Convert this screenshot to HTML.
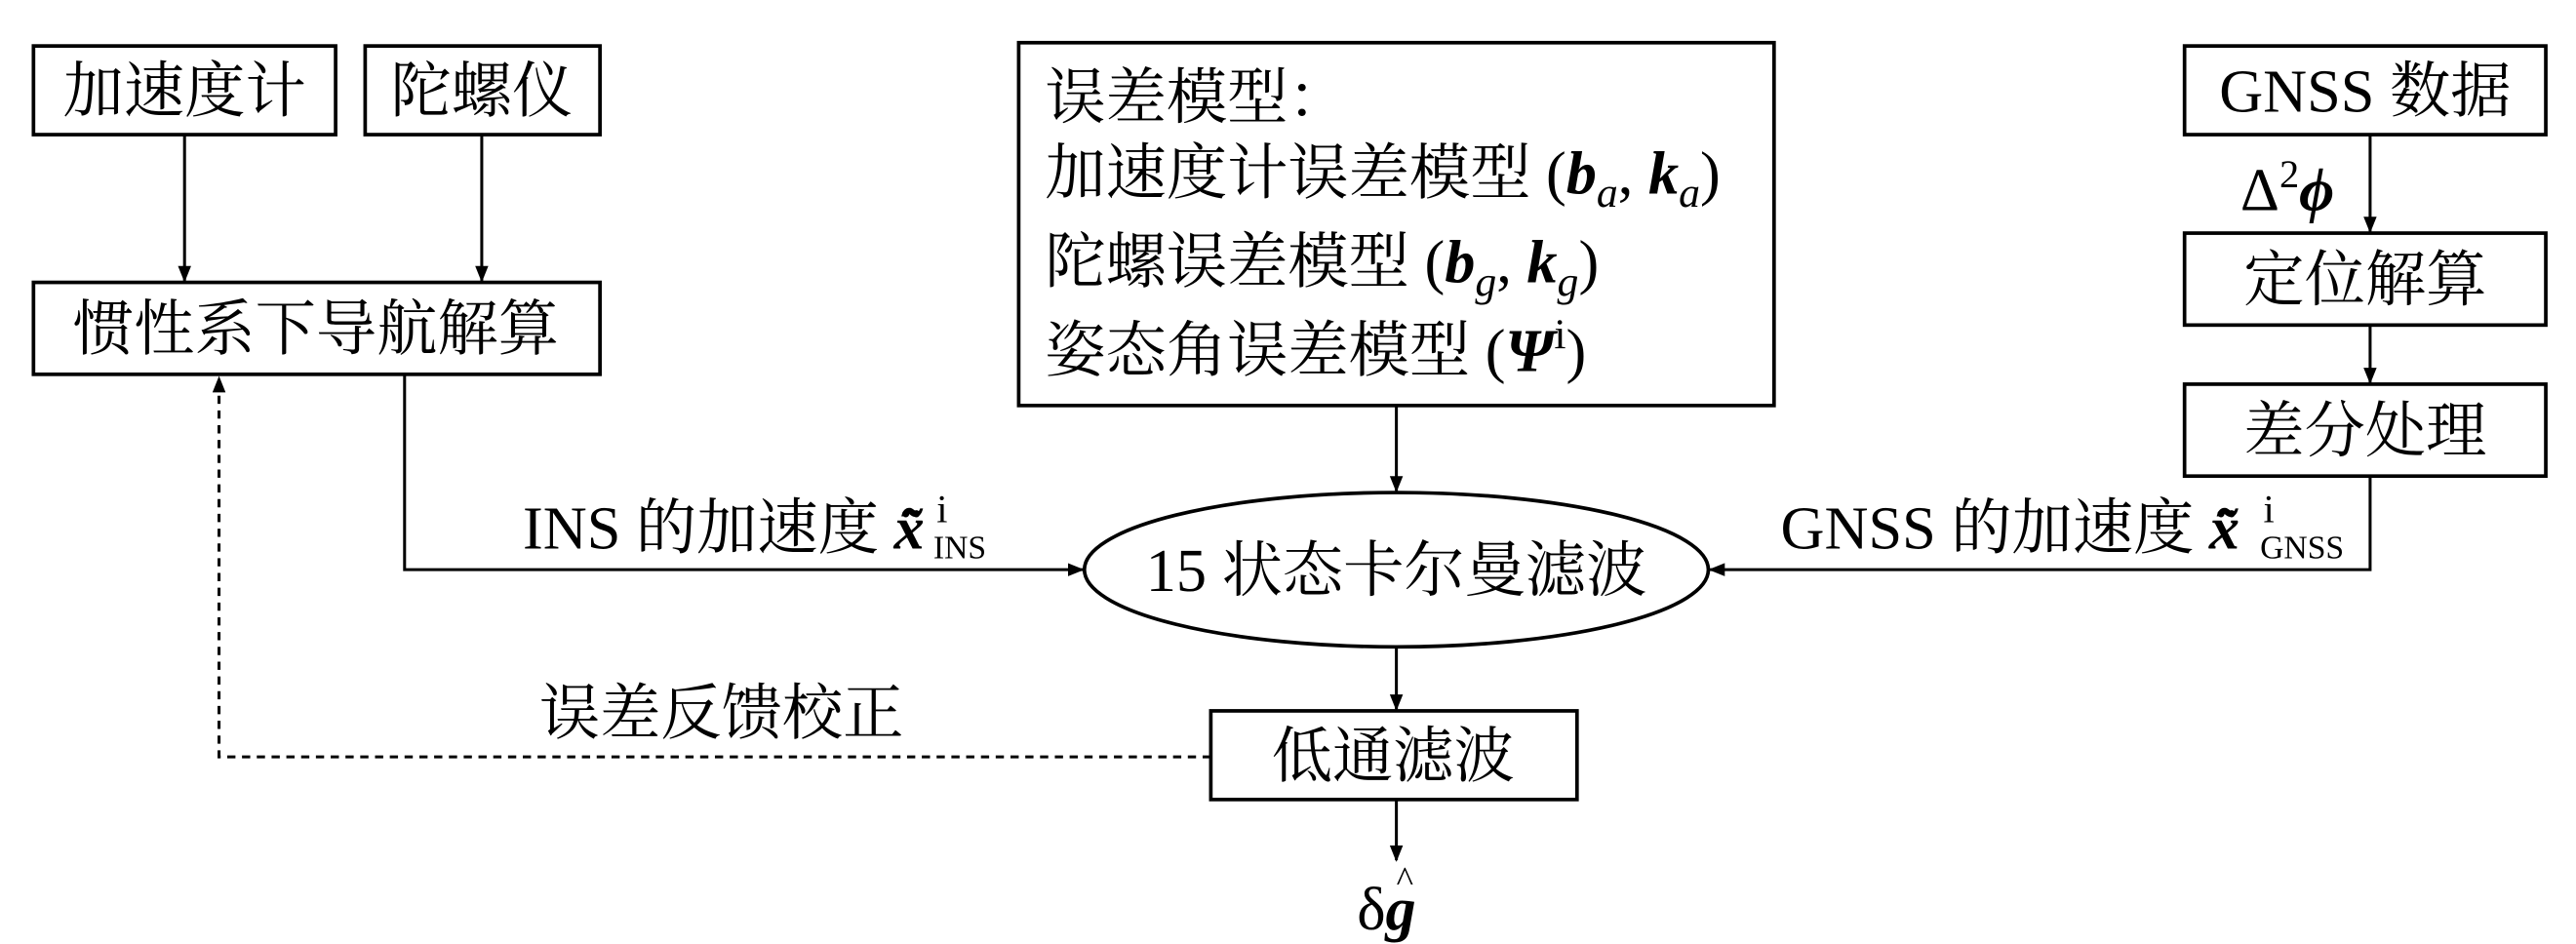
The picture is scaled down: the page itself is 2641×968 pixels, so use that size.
<!DOCTYPE html>
<html><head><meta charset="utf-8"><style>
html,body{margin:0;padding:0;background:#fff;}
svg{display:block;}
text{font-family:"Liberation Serif","Noto Serif CJK SC",serif;fill:#000;}
</style></head><body>
<svg width="2641" height="968" viewBox="0 0 1568 575" xmlns="http://www.w3.org/2000/svg">
<defs>
<marker id="a" markerWidth="10" markerHeight="10" refX="9" refY="5" orient="auto" markerUnits="userSpaceOnUse">
<path d="M0,1 L10,5 L0,9 Z" fill="#000"/></marker>
</defs>
<g fill="none" stroke="#000" stroke-width="2.2">
<rect x="20" y="28" width="184" height="54"/>
<rect x="222" y="28" width="143" height="54"/>
<rect x="20" y="172" width="345" height="56"/>
<rect x="620" y="26" width="460" height="221"/>
<rect x="1330" y="28" width="220" height="54"/>
<rect x="1330" y="142" width="220" height="56"/>
<rect x="1330" y="234" width="220" height="56"/>
<rect x="737" y="433" width="223" height="54"/>
<ellipse cx="850" cy="347" rx="190" ry="47"/>
</g>
<g fill="none" stroke="#000" stroke-width="1.8" marker-end="url(#a)">
<line x1="112" y1="82" x2="112" y2="171"/>
<line x1="293" y1="82" x2="293" y2="171"/>
<line x1="1443" y1="82" x2="1443" y2="141"/>
<line x1="1443" y1="198" x2="1443" y2="233"/>
<polyline points="1443,290 1443,347 1041,347"/>
<polyline points="246,228 246,347 659,347"/>
<line x1="850" y1="247" x2="850" y2="299"/>
<line x1="850" y1="394" x2="850" y2="432"/>
<line x1="850" y1="487" x2="850" y2="524"/>
<polyline points="737,461 133,461 133,230" stroke-dasharray="5,4"/>
</g>
<g font-size="37">
<text x="112" y="68" text-anchor="middle">加速度计</text>
<text x="293" y="68" text-anchor="middle">陀螺仪</text>
<text x="192" y="213" text-anchor="middle">惯性系下导航解算</text>
<text x="1440" y="68" text-anchor="middle">GNSS 数据</text>
<text x="1440" y="183" text-anchor="middle">定位解算</text>
<text x="1440" y="275" text-anchor="middle">差分处理</text>
<text x="848" y="473" text-anchor="middle">低通滤波</text>
<text x="850" y="360" text-anchor="middle">15 状态卡尔曼滤波</text>
<text x="636" y="72">误差模型：</text>
<text x="636" y="118">加速度计误差模型 (<tspan font-weight="bold" font-style="italic">b</tspan><tspan font-style="italic" font-size="26" dy="8">a</tspan><tspan dy="-8">, </tspan><tspan font-weight="bold" font-style="italic">k</tspan><tspan font-style="italic" font-size="26" dy="8">a</tspan><tspan dy="-8">)</tspan></text>
<text x="636" y="172">陀螺误差模型 (<tspan font-weight="bold" font-style="italic">b</tspan><tspan font-style="italic" font-size="26" dy="8">g</tspan><tspan dy="-8">, </tspan><tspan font-weight="bold" font-style="italic">k</tspan><tspan font-style="italic" font-size="26" dy="8">g</tspan><tspan dy="-8">)</tspan></text>
<text x="636" y="226">姿态角误差模型 (<tspan font-weight="bold" font-style="italic">Ψ</tspan><tspan font-size="26" dy="-14">i</tspan><tspan dy="14">)</tspan></text>
<text x="318" y="334">INS 的加速度 <tspan font-weight="bold" font-style="italic">x̃̈</tspan></text>
<text x="570" y="318" font-size="24">i</text>
<text x="568" y="340" font-size="20">INS</text>
<text x="1084" y="334">GNSS 的加速度 <tspan font-weight="bold" font-style="italic">x̃̈</tspan></text>
<text x="1378" y="318" font-size="24">i</text>
<text x="1376" y="340" font-size="20">GNSS</text>
<text x="328" y="447">误差反馈校正</text>
<text x="1364" y="128">Δ<tspan font-size="24" dy="-14">2</tspan><tspan dy="14" font-weight="bold" font-style="italic">ϕ</tspan></text>
<text x="826" y="566">δ<tspan font-weight="bold" font-style="italic">g</tspan></text>
<text x="850" y="543" font-size="22">^</text>
</g>
</svg>
</body></html>
